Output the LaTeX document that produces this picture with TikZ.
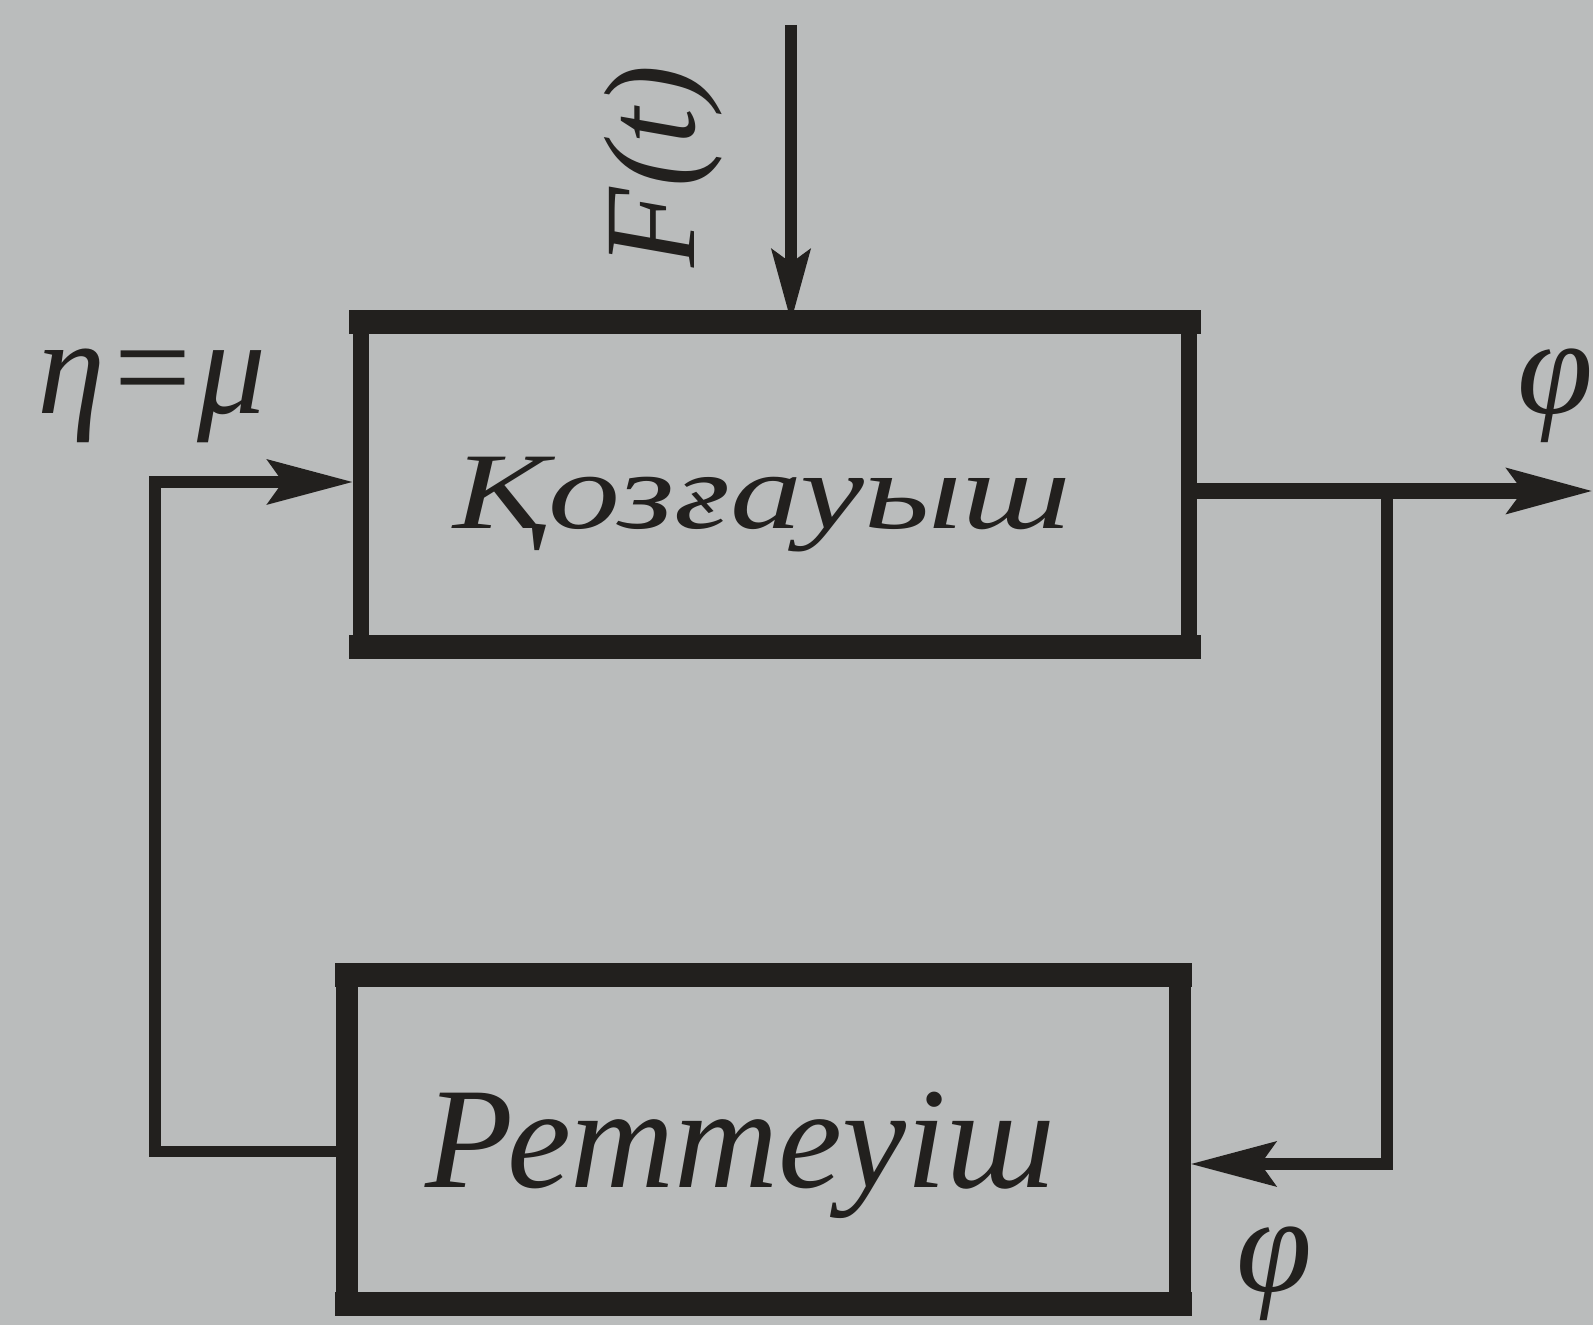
\documentclass[tikz,border=0pt]{standalone}
\usepackage{fontspec}
\setmainfont{Liberation Serif}
\usetikzlibrary{arrows.meta,calc}
\definecolor{paper}{RGB}{186,188,188}
\definecolor{ink}{RGB}{34,32,30}
\begin{document}
\begin{tikzpicture}[
  block/.style={draw=ink, outer sep=0pt, inner sep=0pt, line join=miter},
  heavyedge/.style={draw=ink, line width=7pt, line cap=rect},
  conn/.style={draw=ink, line width=3.4pt, line join=miter},
  outline/.style={draw=ink, line width=4.4pt},
  tip/.style={-{Stealth[length=8.5mm, width=4.4mm, inset=1.5mm]}},
  smalltip/.style={-{Stealth[length=7.2mm, width=3.8mm, inset=1.3mm]}},
  lbl/.style={text=ink, inner sep=0pt, font=\fontsize{39}{39}\selectfont\itshape},
  blocktext/.style={text=ink, inner sep=0pt, anchor=base}
]
% sheet
\fill[paper] (0,0) rectangle (15.93,13.25);
\useasboundingbox (0,0) rectangle (15.93,13.25);

% motor block
\node[block, line width=4.6pt, minimum width=8.28cm, minimum height=3.25cm] (motor) at (7.75,8.405) {};
\draw[heavyedge] (motor.north west) -- (motor.north east);
\draw[heavyedge] (motor.south west) -- (motor.south east);
\node[blocktext, font=\fontsize{31}{31}\selectfont\itshape] (motorname) at (7.62,7.96) {\scalebox{1.32}[1]{Қозғауыш}};

% regulator block
\node[block, line width=6pt, minimum width=8.33cm, minimum height=3.29cm] (reg) at (7.635,1.855) {};
\draw[heavyedge] (reg.north west) -- (reg.north east);
\draw[heavyedge] (reg.south west) -- (reg.south east);
\node[blocktext, font=\fontsize{41}{41}\selectfont\itshape] (regname) at (7.40,1.37) {Реттеуіш};

% disturbance input
\coordinate (ftop) at (7.91,13.0);
\draw[conn, smalltip] (ftop) -- (ftop |- motor.north);
\node[lbl, rotate=90, font=\fontsize{37}{37}\selectfont\itshape] (force) at (6.63,11.59) {F(t)};

% output
\coordinate (out) at (15.93,8.34);
\coordinate (branch) at (13.87,8.34);
\draw[outline, tip] (motor.east |- out) -- (out);
\node[lbl] (phiout) at (15.55,9.29) {φ};

% feedback to the regulator
\coordinate (fbcorner) at (13.87,1.61);
\draw[conn, tip, shorten >=3pt] (branch) -- (fbcorner) -- (reg.east |- fbcorner);
\node[lbl] (phiin) at (12.74,0.51) {φ};

% control action back to the motor
\coordinate (lb) at (1.55,1.735);
\coordinate (lt) at (1.55,8.43);
\draw[conn, tip, shorten >=2.3pt] (reg.west |- lb) -- (lb) -- (lt) -- (motor.west |- lt);
\node[lbl] (ctrl) at (1.52,9.29) {η=μ};
\end{tikzpicture}
\end{document}
